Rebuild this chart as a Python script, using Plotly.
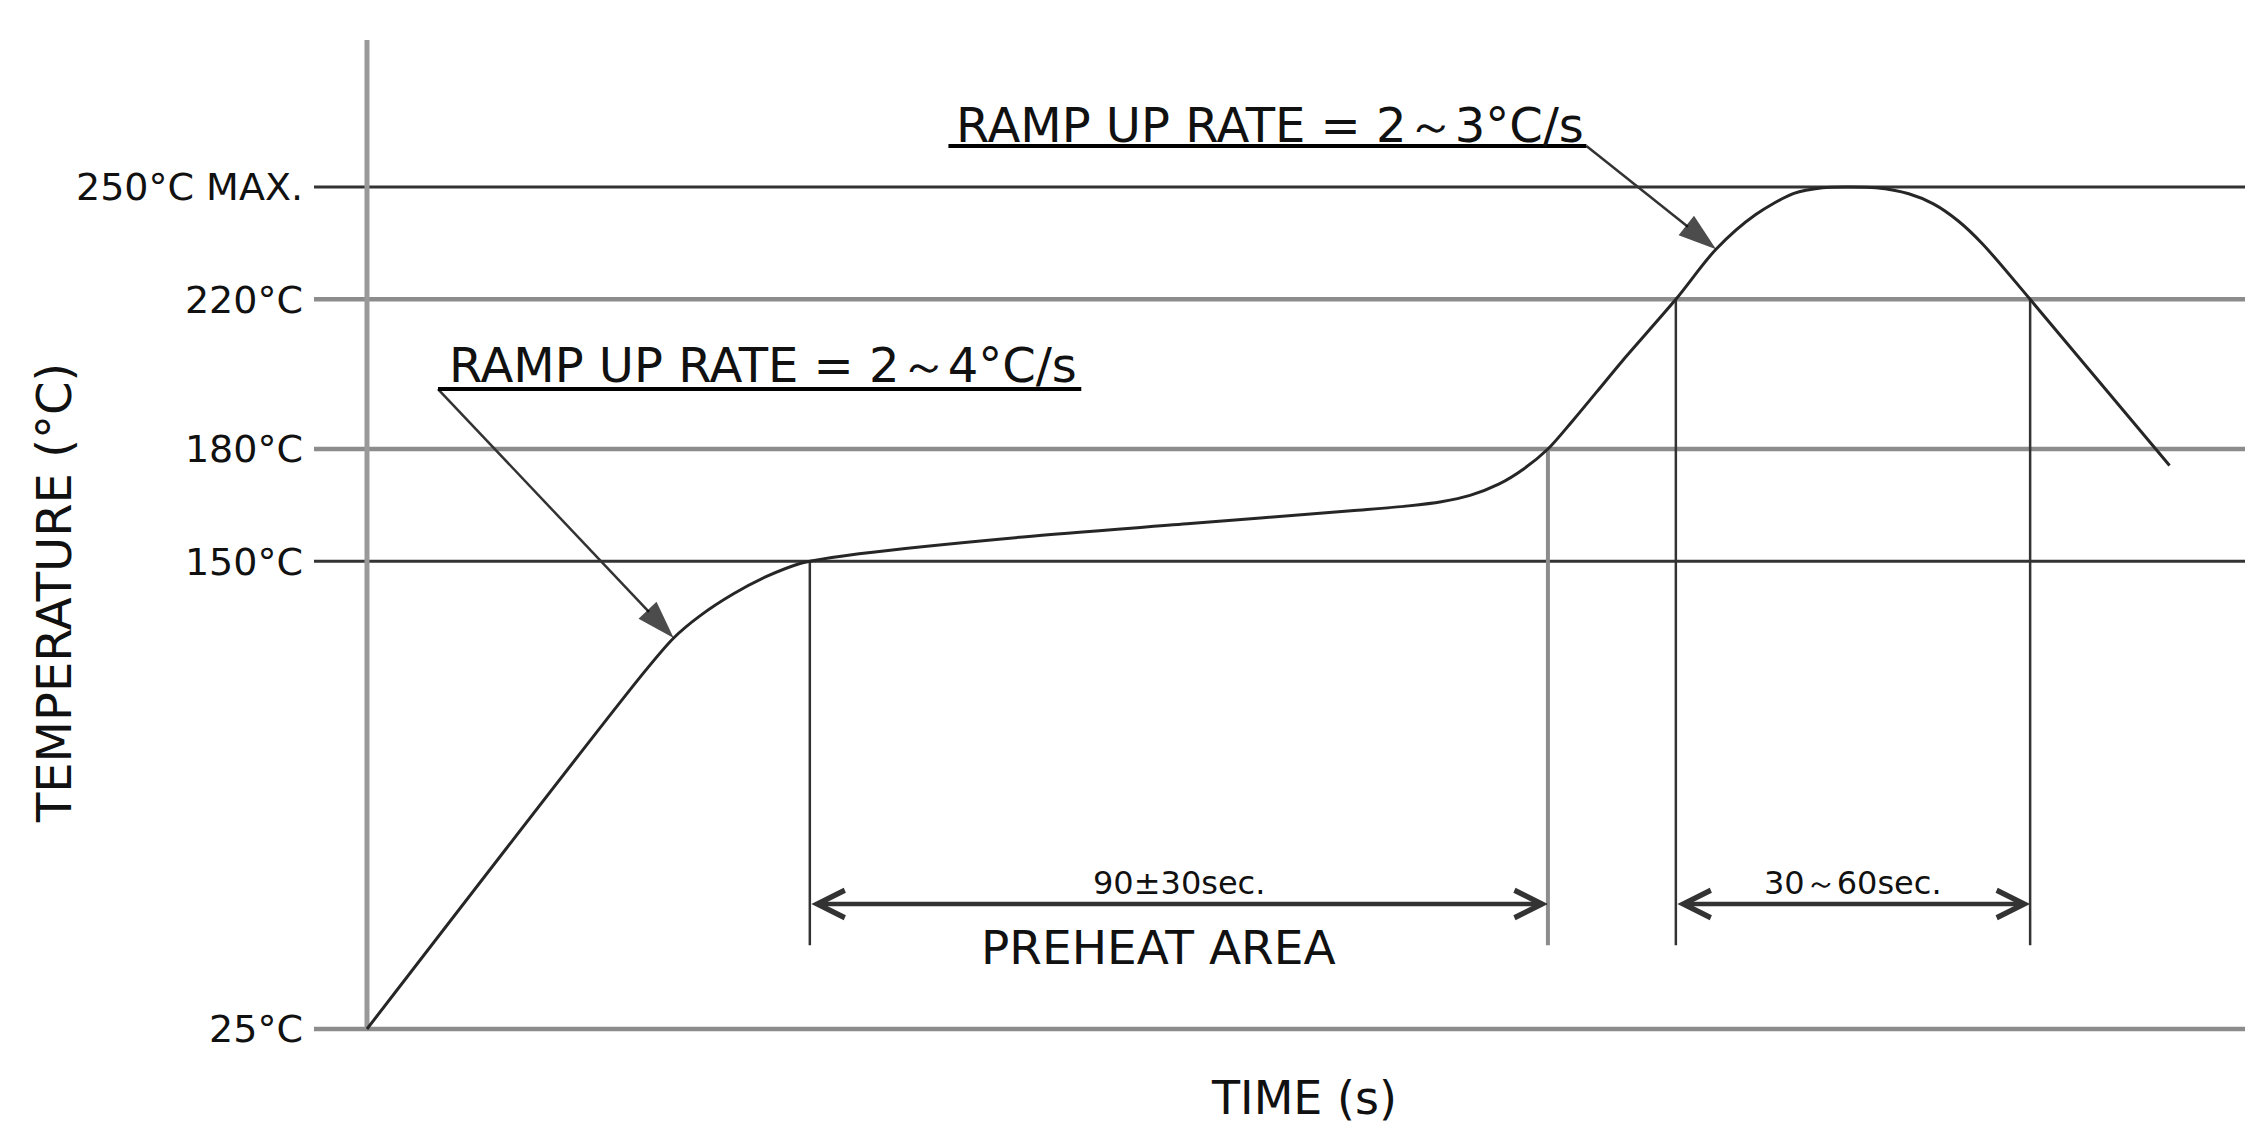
import plotly.graph_objects as go

# ---------------- data ----------------
time_s = [0, 34.0, 37.4, 40.6, 44.7, 48.8, 52.8, 54.0, 60, 80, 100, 120, 127, 131, 134.5,
          138, 141, 144.0, 147.0, 150.0, 153.1, 159.6, 164.5, 169.3, 174.0, 177.5, 180.5,
          184, 188, 191, 194, 197, 202.8, 219.8]
temp_c = [25, 120.9, 129.5, 135.4, 141.3, 146.0, 149.4, 150, 152, 156.5, 160, 163.5, 164.8,
          165.9, 167.6, 170.6, 174.6, 180, 187.5, 195.4, 203.6, 220, 233.4, 242.6, 248.3,
          249.8, 250, 249.8, 248.2, 245.5, 241.0, 234.8, 220, 175.6]

ref_temps = [250, 220, 180, 150, 25]
ref_labels = ["250°C MAX.", "220°C", "180°C", "150°C", "25°C"]

# times where the profile crosses the zone limits
cross_times = [54.0, 144.0, 159.6, 202.8]
cross_temps = [150, 180, 220, 220]

zone_labels = ["90±30sec.", "30～60sec."]
ramp_labels = ["RAMP UP RATE = 2～4°C/s", "RAMP UP RATE = 2～3°C/s"]

# ---------------- layout constants ----------------
X_RANGE = [-6.46, 229.0]
Y_RANGE = [22.06, 289.3]
DIM_Y = 58.4        # height of the dimension arrows (°C units)
DIM_BOTTOM = 47.4   # bottom of the dimension extension lines
FONT = "DejaVu Sans, Arial, sans-serif"
DARK = "#333333"
GREY = "#8c8c8c"

fig = go.Figure()

# profile curve
fig.add_trace(go.Scatter(x=time_s, y=temp_c, mode="lines",
                         line=dict(color="#262626", width=3, shape="spline", smoothing=0.85),
                         hoverinfo="skip", showlegend=False))

shapes = []
# horizontal reference lines
for t in ref_temps:
    dark = t in (250, 150)
    shapes.append(dict(type="line", xref="x", yref="y", x0=X_RANGE[0], x1=X_RANGE[1],
                       y0=t, y1=t, layer="below",
                       line=dict(color=DARK if dark else GREY, width=3 if dark else 4.5)))
# vertical axis line
shapes.append(dict(type="line", xref="x", yref="y", x0=0, x1=0, y0=25, y1=Y_RANGE[1],
                   layer="below", line=dict(color="#999999", width=5)))
# extension lines of the zones
for tx, ty in zip(cross_times, cross_temps):
    grey = ty == 180
    shapes.append(dict(type="line", xref="x", yref="y", x0=tx, x1=tx, y0=ty, y1=DIM_BOTTOM,
                       layer="below",
                       line=dict(color=GREY if grey else DARK, width=4 if grey else 2.5)))

# ramp annotations: underline + leader with arrow head
ramp_text_pos = [(9.76, 202.4), (71.6, 266.6)]
underlines = [((8.66, 87.1), 196.0), ((70.9, 148.7), 261.0)]
leaders = [((8.66, 196.0), (37.4, 129.5)), ((148.7, 261.0), (164.5, 233.4))]

for (ux, uy) in underlines:
    shapes.append(dict(type="line", xref="x", yref="y", x0=ux[0], x1=ux[1], y0=uy, y1=uy,
                       line=dict(color="black", width=4)))

for (p0, p1) in leaders:
    fig.add_trace(go.Scatter(x=[p0[0], p1[0]], y=[p0[1], p1[1]], mode="lines+markers",
                             line=dict(color=DARK, width=2.5),
                             marker=dict(symbol="arrow", size=[0, 40], angleref="previous",
                                         color="black", line=dict(width=0)),
                             hoverinfo="skip", showlegend=False))

annotations = []
for (tx, ty), txt in zip(ramp_text_pos, ramp_labels):
    annotations.append(dict(x=tx, y=ty, xref="x", yref="y", text=txt, showarrow=False,
                            xanchor="left", yanchor="middle",
                            font=dict(family=FONT, size=48, color="#111111")))

# dimension arrows (double headed)
dims = [(cross_times[0], cross_times[1]), (cross_times[2], cross_times[3])]
for (a, b), txt in zip(dims, zone_labels):
    annotations.append(dict(x=b, y=DIM_Y, ax=a, ay=DIM_Y, xref="x", yref="y",
                            axref="x", ayref="y", text="", showarrow=True,
                            arrowside="end+start", arrowhead=5, arrowsize=1.2,
                            arrowwidth=4.5, arrowcolor=DARK))
    annotations.append(dict(x=(a + b) / 2, y=DIM_Y + 5.5, xref="x", yref="y", text=txt,
                            showarrow=False, xanchor="center", yanchor="middle",
                            font=dict(family=FONT, size=32, color="#111111")))

annotations.append(dict(x=96.5, y=46.9, xref="x", yref="y", text="PREHEAT AREA",
                        showarrow=False, xanchor="center", yanchor="middle",
                        font=dict(family=FONT, size=47, color="#111111")))
annotations.append(dict(x=114.3, y=-0.058, xref="x", yref="paper", text="TIME (s)",
                        showarrow=False, xanchor="center", yanchor="middle",
                        font=dict(family=FONT, size=46, color="#111111")))
annotations.append(dict(x=-0.1346, y=0.447, xref="paper", yref="paper",
                        text="TEMPERATURE (°C)", textangle=-90, showarrow=False,
                        xanchor="center", yanchor="middle",
                        font=dict(family=FONT, size=48, color="#111111")))

fig.update_layout(
    width=2256, height=1127,
    margin=dict(l=314, r=11, t=40, b=87, pad=0),
    paper_bgcolor="white", plot_bgcolor="white",
    shapes=shapes, annotations=annotations, showlegend=False,
    xaxis=dict(range=X_RANGE, showgrid=False, zeroline=False, showline=False,
               showticklabels=False, ticks="", fixedrange=True),
    yaxis=dict(range=Y_RANGE, showgrid=False, zeroline=False, showline=False,
               tickmode="array", tickvals=ref_temps, ticktext=ref_labels, ticks="",
               ticklabelstandoff=10,
               tickfont=dict(family=FONT, size=38, color="#111111"), fixedrange=True),
)

fig.write_html("out.html", config={"displayModeBar": False},
               post_script="document.body.style.margin='0';document.body.style.overflow='hidden';")
